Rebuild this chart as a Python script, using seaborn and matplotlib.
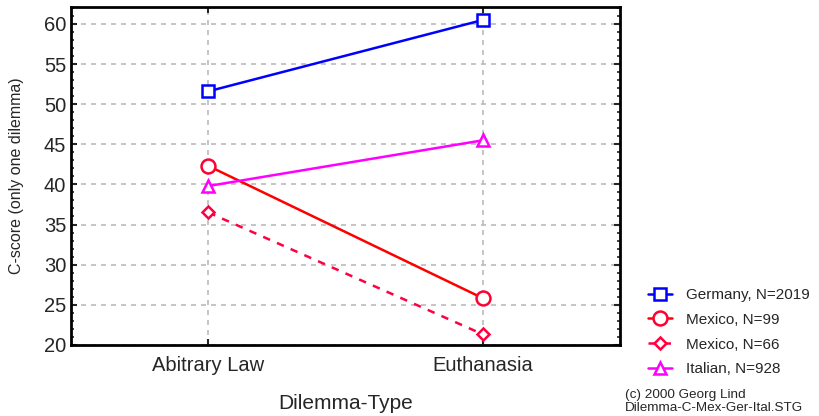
import pandas as pd
import matplotlib
matplotlib.use('Agg')
import matplotlib.pyplot as plt
from matplotlib.ticker import MultipleLocator
import seaborn as sns

# data
dilemmas = ['Abitrary Law', 'Euthanasia']
germany = [51.6, 60.5]
mexico_99 = [42.3, 25.8]
mexico_66 = [36.5, 21.3]
italian = [39.8, 45.5]
labels = ['Germany, N=2019', 'Mexico, N=99', 'Mexico, N=66', 'Italian, N=928']

sns.set_style('white')
plt.rcParams['font.family'] = ['Liberation Sans', 'DejaVu Sans']

fig = plt.figure(figsize=(8.2, 4.16), dpi=100)
ax = fig.add_axes([0.0866, 0.171, 0.67, 0.812])

series = [
    (germany, labels[0], 'blue', 'blue', 's', '-', 9),
    (mexico_99, labels[1], 'red', '#ff0033', 'o', '-', 10),
    (mexico_66, labels[2], '#ff0040', '#ff0040', 'D', (0, (3, 3)), 6),
    (italian, labels[3], 'magenta', 'magenta', '^', '-', 9),
]
for vals, lab, col, mcol, mk, ls, ms in series:
    df = pd.DataFrame({'Dilemma-Type': dilemmas, 'score': vals})
    sns.lineplot(data=df, x='Dilemma-Type', y='score', ax=ax, color=col,
                 linestyle=ls, linewidth=1.8, marker=mk, markersize=ms,
                 markerfacecolor='white', markeredgecolor=mcol,
                 markeredgewidth=1.8, label=lab)

ax.set_xlim(-0.5, 1.5)
ax.set_ylim(20, 62.1)
ax.yaxis.set_major_locator(MultipleLocator(5))
ax.yaxis.set_minor_locator(MultipleLocator(1))
ax.grid(True, color='#bbbbbb', linestyle=(0, (3, 3)), linewidth=1.2)
ax.set_axisbelow(True)

for s in ax.spines.values():
    s.set_linewidth(2)
    s.set_color('black')

ax.tick_params(axis='both', which='major', labelsize=14.5, direction='in',
               length=4, width=1.5, top=True, right=True, left=True, bottom=True)
ax.tick_params(axis='y', which='minor', direction='in', length=2.5, width=1.2,
               left=True, right=True)
ax.tick_params(axis='x', pad=8)

ax.set_xlabel('Dilemma-Type', fontsize=15, labelpad=14)
ax.set_ylabel('C-score (only one dilemma)', fontsize=11.5, labelpad=14)

ax.legend(loc='upper left', bbox_to_anchor=(1.05, 0.168), frameon=False,
          fontsize=11, handlelength=1.6, handletextpad=0.9,
          labelspacing=0.7, borderaxespad=0, borderpad=0)

fig.text(0.762, 0.004, '(c) 2000 Georg Lind\nDilemma-C-Mex-Ger-Ital.STG',
         fontsize=9.7, linespacing=1.1, va='bottom')

fig.savefig('out.png', dpi=100)
